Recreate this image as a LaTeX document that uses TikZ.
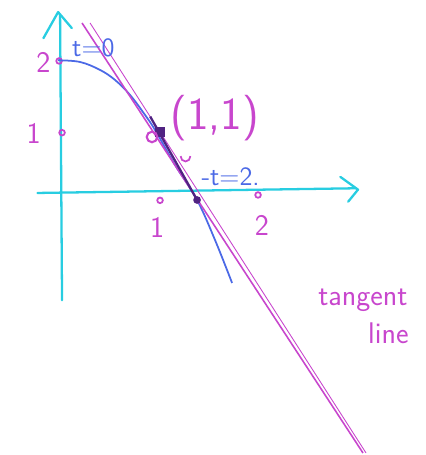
\documentclass[tikz,border=0pt]{standalone}
\usetikzlibrary{calc}
\definecolor{axcyan}{RGB}{40,205,225}
\definecolor{penmag}{RGB}{200,70,205}
\definecolor{penblue}{RGB}{75,105,230}
\definecolor{penink}{RGB}{80,35,130}
\tikzset{
  axis/.style={axcyan,line width=1.3pt,line cap=round,line join=round},
  maglbl/.style={penmag,font=\sffamily\fontsize{17}{17}\selectfont},
  bluelbl/.style={penblue,font=\sffamily\fontsize{15}{15}\selectfont},
  tick/.style={penmag,line width=1pt}
}
\begin{document}
\begin{tikzpicture}[x=1.96cm,y=1.34cm]
  \useasboundingbox (-0.633,-3.881) rectangle (3.704,2.910);
  \coordinate (Yb) at (0,-1.57); \coordinate (Yt) at (-0.02,2.69);
  \coordinate (Xl) at (-0.25,0.03); \coordinate (Xr) at (3.0,0.1);
  \coordinate (P) at (1,0.94); \coordinate (Q) at (1.378,-0.075);
  \coordinate (Ta) at (0.204,2.567); \coordinate (Tb) at (3.071,-3.851);
  \coordinate (Tc) at (0.286,2.567); \coordinate (Td) at (3.102,-3.851);
  % axes
  \draw[axis] (Yb)--(Yt);
  \draw[axis] (-0.19,2.34)--(-0.04,2.73)--(0.10,2.49);
  \draw[axis] (Xl)--(Xr);
  \draw[axis] (2.84,0.27)--(3.02,0.08)--(2.92,-0.10);
  % ticks
  \foreach \p in {(1,-0.08),(2,0),(0,0.93),(-0.03,2.0)}
    \draw[tick] \p circle(1.6pt);
  \node[maglbl] (y2) at (-0.19,1.98) {2};
  \node[maglbl] (y1) at (-0.29,0.92) {1};
  \node[maglbl] (x1) at (0.97,-0.48) {1};
  \node[maglbl] (x2) at (2.04,-0.46) {2};
  % curve
  \draw[penblue,line width=1pt] plot[smooth,tension=0.6] coordinates
    {(-0.04,2.01) (0.184,1.985) (0.388,1.866) (0.541,1.716) (0.694,1.493)
     (0.847,1.194) (0.949,0.97) (1.153,0.448) (1.378,-0.075) (1.561,-0.672) (1.735,-1.313)};
  % tangent line
  \draw[penmag,line width=0.9pt] (Ta)--(Tb);
  \draw[penmag,line width=0.5pt] (Tc)--(Td);
  \draw[penink,line width=1.3pt] (0.9,1.17)--(Q);
  \fill[penink] (P) ++(-3pt,-3pt) rectangle ++(6pt,6pt);
  \draw[penmag,line width=1.2pt] (0.918,0.866) circle(3pt);
  \fill[penink] (Q) circle(2.2pt);
  \draw[penmag,line width=1pt] (1.21,0.58) arc(180:360:0.05 and 0.08);
  \node[maglbl,font=\sffamily\fontsize{26}{26}\selectfont] (pt) at (1.56,1.15) {(1,1)};
  \node[bluelbl] (t0) at (0.32,2.2) {t=0};
  \node[bluelbl] (t2) at (1.72,0.27) {-t=2.};
  \node[maglbl] (tan) at (3.07,-1.57) {tangent};
  \node[maglbl] (lin) at (3.33,-2.06) {line};
\end{tikzpicture}
\end{document}
